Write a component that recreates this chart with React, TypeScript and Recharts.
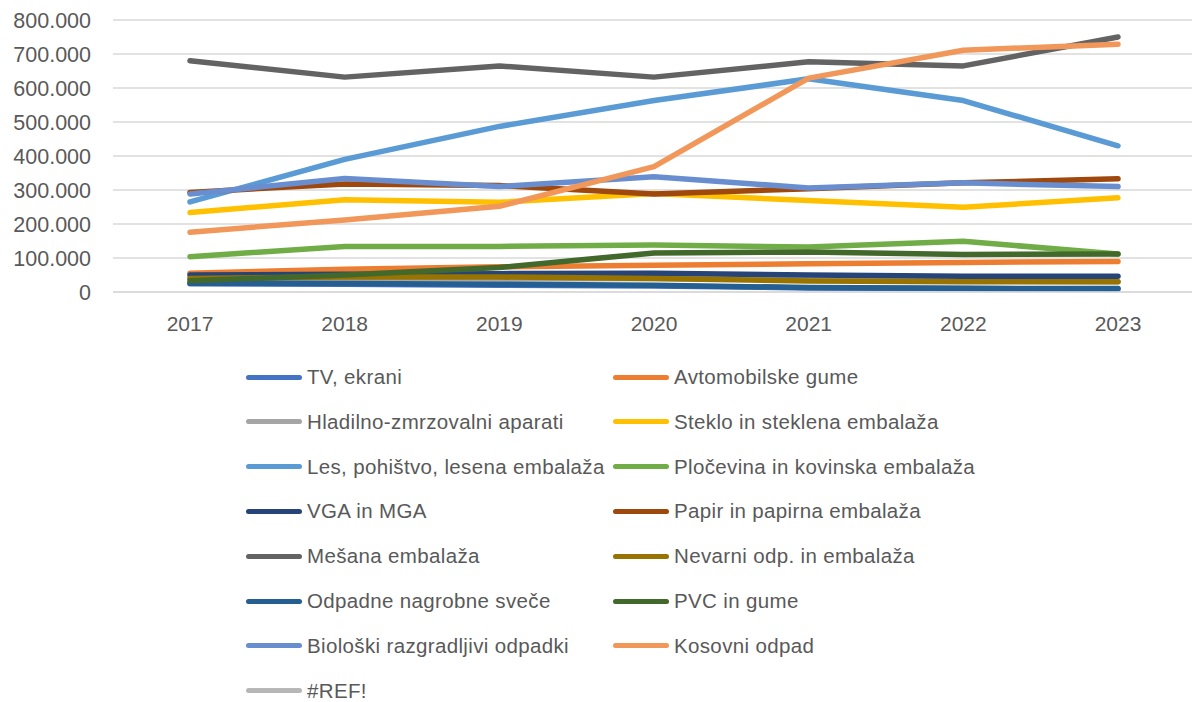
import React from 'react';
import { LineChart, Line, XAxis, YAxis, CartesianGrid } from 'recharts';

const years = ['2017', '2018', '2019', '2020', '2021', '2022', '2023'];
const yTicks = [0, 100000, 200000, 300000, 400000, 500000, 600000, 700000, 800000];

const tvEkrani = [24000, 23000, 20000, 18000, 12000, 10000, 9000];
const avtomobilskeGume = [55000, 67000, 74000, 79000, 83000, 87000, 90000];
const hladilno = [40000, 40000, 38000, 40000, 35000, 32000, 30000];
const steklo = [234000, 271000, 264000, 290000, 269000, 249000, 277000];
const les = [265000, 390000, 487000, 563000, 627000, 563000, 430000];
const plocevina = [104000, 134000, 134000, 138000, 132000, 149000, 112000];
const vga = [50000, 52000, 54000, 55000, 50000, 46000, 46000];
const papir = [293000, 318000, 313000, 288000, 304000, 321000, 333000];
const mesana = [680000, 632000, 665000, 632000, 677000, 665000, 750000];
const nevarni = [40000, 44000, 44000, 40000, 32000, 30000, 30000];
const nagrobne = [26000, 25000, 23000, 20000, 13000, 11000, 10000];
const pvc = [33000, 50000, 72000, 115000, 118000, 110000, 112000];
const bioloski = [288000, 334000, 310000, 339000, 306000, 321000, 310000];
const kosovni = [176000, 212000, 252000, 369000, 629000, 711000, 729000];
const refErr: (number | null)[] = [null, null, null, null, null, null, null];

const series = [
  { key: 'tv', name: 'TV, ekrani', color: '#4472C4', values: tvEkrani },
  { key: 'avto', name: 'Avtomobilske gume', color: '#ED7D31', values: avtomobilskeGume },
  { key: 'hlad', name: 'Hladilno-zmrzovalni aparati', color: '#A5A5A5', values: hladilno },
  { key: 'steklo', name: 'Steklo in steklena embalaža', color: '#FFC000', values: steklo },
  { key: 'les', name: 'Les, pohištvo, lesena embalaža', color: '#5B9BD5', values: les },
  { key: 'ploc', name: 'Pločevina in kovinska embalaža', color: '#70AD47', values: plocevina },
  { key: 'vga', name: 'VGA in MGA', color: '#264478', values: vga },
  { key: 'papir', name: 'Papir in papirna embalaža', color: '#9E480E', values: papir },
  { key: 'mes', name: 'Mešana embalaža', color: '#636363', values: mesana },
  { key: 'nev', name: 'Nevarni odp. in embalaža', color: '#997300', values: nevarni },
  { key: 'nagr', name: 'Odpadne nagrobne sveče', color: '#255E91', values: nagrobne },
  { key: 'pvc', name: 'PVC in gume', color: '#43682B', values: pvc },
  { key: 'bio', name: 'Biološki razgradljivi odpadki', color: '#698ED0', values: bioloski },
  { key: 'kos', name: 'Kosovni odpad', color: '#F1975A', values: kosovni },
  { key: 'ref', name: '#REF!', color: '#B7B7B7', values: refErr },
];

const data = years.map((y, i) => {
  const row: Record<string, any> = { year: y };
  series.forEach((s) => {
    row[s.key] = s.values[i];
  });
  return row;
});

const fmt = (v: number) => (v === 0 ? '0' : v.toLocaleString('de-DE'));

const FONT = '"Liberation Sans", Arial, sans-serif';
const TEXT = '#595959';

export default function App() {
  return (
    <div style={{ position: 'absolute', left: 0, top: 0, width: 1192, height: 702, background: '#fff', fontFamily: FONT }}>
      <LineChart width={1192} height={702} data={data} margin={{ top: 20, right: 0, bottom: 362, left: 0 }}>
        <CartesianGrid vertical={false} stroke="#D9D9D9" strokeWidth={1.5} />
        <XAxis
          dataKey="year"
          height={48}
          padding={{ left: 77, right: 74 }}
          tickLine={false}
          axisLine={{ stroke: '#D9D9D9', strokeWidth: 1.5 }}
          tickMargin={18}
          tick={{ fill: TEXT, fontSize: 21, fontFamily: FONT }}
          interval={0}
        />
        <YAxis
          width={113}
          domain={[0, 800000]}
          ticks={yTicks}
          tickFormatter={fmt}
          axisLine={false}
          tickLine={false}
          tickMargin={16}
          tick={{ fill: TEXT, fontSize: 21.5, fontFamily: FONT }}
          interval={0}
        />
        {series.map((s) => (
          <Line
            key={s.key}
            dataKey={s.key}
            name={s.name}
            stroke={s.color}
            strokeWidth={5.5}
            strokeLinecap="round"
            strokeLinejoin="round"
            dot={false}
            activeDot={false}
            isAnimationActive={false}
          />
        ))}
      </LineChart>
      {series.map((s, i) => {
        const col = i % 2;
        const row = Math.floor(i / 2);
        const top = 377 + row * 44.8;
        const left = col === 0 ? 246 : 613;
        return (
          <div key={s.key} style={{ position: 'absolute', left, top: top - 13, height: 26, display: 'flex', alignItems: 'center', whiteSpace: 'nowrap' }}>
            <div style={{ width: 56, height: 5, borderRadius: 3, background: s.color }} />
            <span style={{ marginLeft: 5, fontSize: 20.5, letterSpacing: 0.35, color: TEXT, fontFamily: FONT }}>{s.name}</span>
          </div>
        );
      })}
    </div>
  );
}
